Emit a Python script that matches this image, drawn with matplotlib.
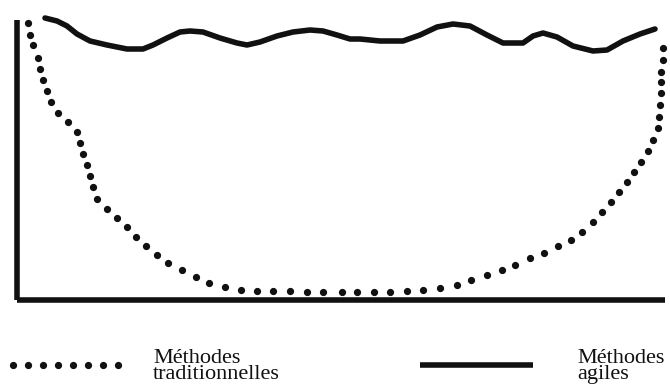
import matplotlib
matplotlib.use("Agg")
import matplotlib.pyplot as plt
import numpy as np

# Agile methods (solid line): x position, height above axis
agile_x = [28, 40, 50, 60, 73, 90, 110, 126, 136, 150, 163, 173, 186, 203, 220,
           230, 243, 260, 276, 293, 306, 320, 333, 343, 363, 386, 403, 420, 436,
           453, 470, 486, 506, 516, 526, 540, 556, 576, 590, 606, 623, 638]
agile_y = [282, 279, 274, 266, 259, 255, 251, 251, 255, 262, 268, 269, 268, 262, 257,
           255, 258, 264, 268, 270, 269, 265, 261, 261, 259, 259, 265, 273, 276,
           274, 265, 257, 257, 264, 267, 263, 254, 249, 250, 259, 266, 271]

# Traditional methods (dotted curve)
trad_x = [11, 13, 16, 21, 23, 26, 30, 34, 41, 51, 60, 63, 66, 70, 73, 76, 80, 90,
          100, 110, 119, 129, 140, 151, 165, 179, 192, 208, 224, 240, 256, 273, 290,
          306, 325, 340, 357, 373, 390, 406, 423, 440, 454, 470, 485, 498, 513, 527,
          541, 554, 565, 576, 585, 594, 602, 610, 617, 624, 631, 636, 641, 642, 643,
          644, 644, 644, 646, 646]
trad_y = [277, 265, 255, 242, 231, 220, 209, 198, 187, 178, 168, 157, 146, 135, 124,
          113, 101, 91, 82, 73, 63, 54, 45, 37, 30, 23, 17, 13, 10, 9, 9, 9, 8, 8, 8,
          8, 8, 8, 9, 10, 12, 15, 20, 25, 30, 35, 42, 47, 54, 60, 68, 78, 88, 98, 108,
          118, 128, 138, 149, 160, 172, 183, 195, 207, 218, 228, 240, 252]

labels = ["Méthodes\ntraditionnelles", "Méthodes\nagiles"]

W, H = 670, 385
fig = plt.figure(figsize=(W / 100, H / 100), dpi=100)
fig.patch.set_facecolor("white")

ink = "#111111"

# Main axes: left spine at x=17px, bottom spine at y=300px (from top)
left, right, top, bottom = 17, 665, 20, 300
ax = fig.add_axes([left / W, (H - bottom) / H, (right - left) / W, (bottom - top) / H])
ax.set_xlim(0, right - left)
ax.set_ylim(0, bottom - top)
for s in ["top", "right"]:
    ax.spines[s].set_visible(False)
for s in ["left", "bottom"]:
    ax.spines[s].set_linewidth(4)
    ax.spines[s].set_color(ink)
    ax.spines[s].set_capstyle("butt")
ax.set_xticks([])
ax.set_yticks([])
ax.patch.set_alpha(0)

ax.plot(agile_x, agile_y, color=ink, lw=4, solid_capstyle="round",
        solid_joinstyle="round", clip_on=False)
ax.plot(trad_x, trad_y, linestyle="none", marker="o", markersize=4.2,
        color=ink, clip_on=False)

# Legend drawn in pixel coordinates below the chart
lg = fig.add_axes([0, 0, 1, 1])
lg.set_xlim(0, W)
lg.set_ylim(H, 0)
lg.axis("off")
lg.patch.set_alpha(0)

lg.plot(np.linspace(13, 118, 8), [365] * 8, linestyle="none", marker="o",
        markersize=4.2, color=ink)
lg.text(153, 384, labels[0], family="Liberation Serif", fontsize=16,
        va="bottom", ha="left", linespacing=0.82, color=ink)
lg.plot([420, 533], [365, 365], color=ink, lw=4, solid_capstyle="butt")
lg.text(577, 384, labels[1], family="Liberation Serif", fontsize=16,
        va="bottom", ha="left", linespacing=0.82, color=ink)

fig.savefig("out.png", dpi=100, facecolor="white")
